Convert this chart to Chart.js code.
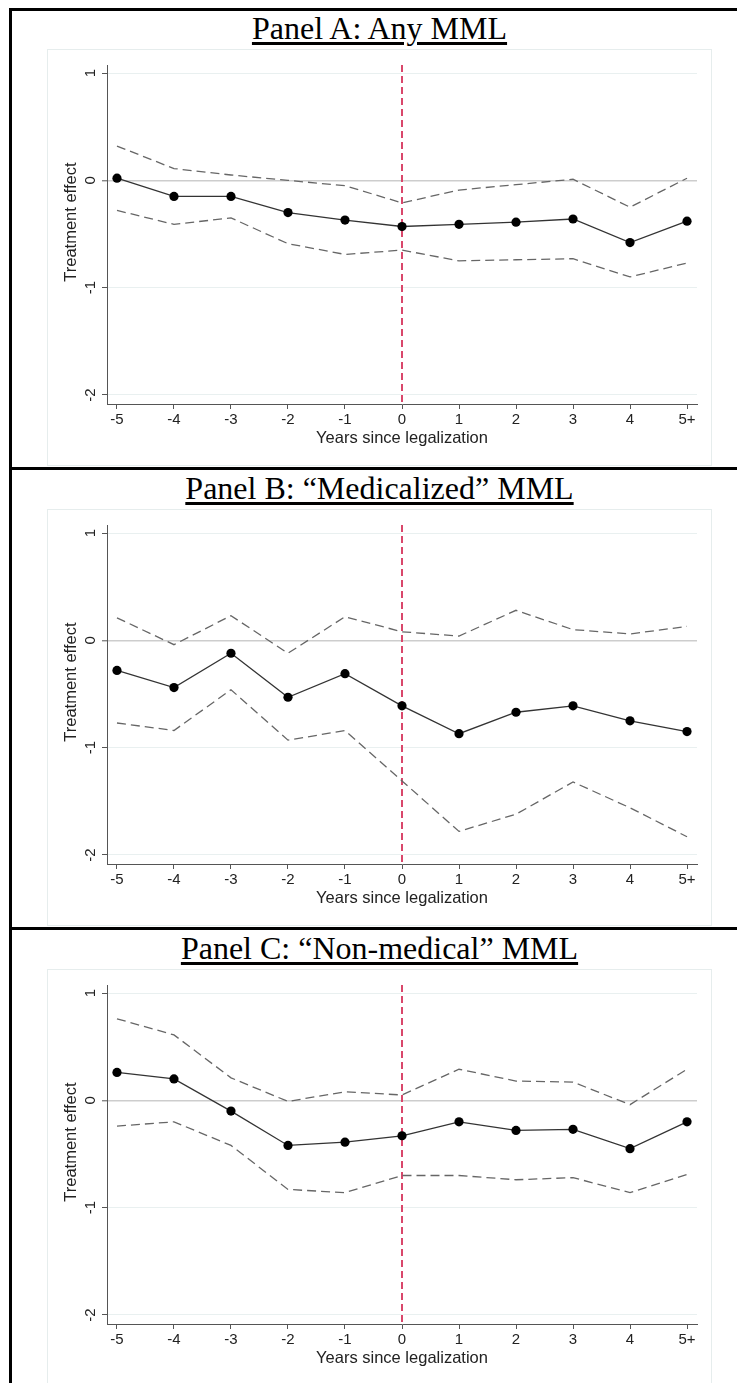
<!DOCTYPE html>
<html>
<head>
<meta charset="utf-8">
<script src="https://cdn.jsdelivr.net/npm/chart.js@4.4.1/dist/chart.umd.min.js"></script>
<style>
body { margin: 0; background: #fff; width: 737px; height: 1383px; overflow: hidden; position: relative; }
.vline { position: absolute; left: 9px; top: 8px; width: 3px; height: 1400px; background: #000; }
.hline { position: absolute; left: 9px; width: 740px; height: 3px; background: #000; }
.title { position: absolute; left: 9px; width: 741px; text-align: center; color: #000;
  font-family: "Liberation Serif", "Times New Roman", serif; font-size: 32px; line-height: 32px; }
.title span { text-decoration: underline; text-decoration-thickness: 2.5px; text-underline-offset: 3px; }
.frame { position: absolute; left: 47px; width: 663px; height: 415px; border: 1px solid #e6eded; }
canvas { position: absolute; left: 47px; }
</style>
</head>
<body>
<div class="vline"></div>
<div class="hline" style="top:8px"></div>
<div class="hline" style="top:467px"></div>
<div class="hline" style="top:927px"></div>

<div class="title" style="top:12px"><span>Panel A: Any MML</span></div>
<div class="frame" style="top:49px"></div>
<canvas id="chartA" width="664" height="416" style="top:49px"></canvas>

<div class="title" style="top:472px"><span>Panel B: “Medicalized” MML</span></div>
<div class="frame" style="top:509px"></div>
<canvas id="chartB" width="664" height="416" style="top:509px"></canvas>

<div class="title" style="top:932px"><span>Panel C: “Non-medical” MML</span></div>
<div class="frame" style="top:969px"></div>
<canvas id="chartC" width="664" height="416" style="top:969px"></canvas>

<script>
// x axis: years since legalization
const xTicks = [-5, -4, -3, -2, -1, 0, 1, 2, 3, 4, 5];
const xLabels = ['-5', '-4', '-3', '-2', '-1', '0', '1', '2', '3', '4', '5+'];
const yTicks = [-2, -1, 0, 1];
const yMin = -2.084;
const yMax = 1.075;
const legalYear = 0;

// Panel A: Any MML
const anyEst = [0.02, -0.15, -0.15, -0.30, -0.37, -0.43, -0.41, -0.39, -0.36, -0.58, -0.38];
const anyHi  = [0.32, 0.11, 0.05, 0.00, -0.05, -0.21, -0.09, -0.04, 0.01, -0.25, 0.02];
const anyLo  = [-0.28, -0.41, -0.35, -0.59, -0.69, -0.65, -0.75, -0.74, -0.73, -0.90, -0.77];

// Panel B: "Medicalized" MML
const medEst = [-0.28, -0.44, -0.12, -0.53, -0.31, -0.61, -0.87, -0.67, -0.61, -0.75, -0.85];
const medHi  = [0.21, -0.04, 0.23, -0.12, 0.22, 0.08, 0.04, 0.28, 0.10, 0.06, 0.13];
const medLo  = [-0.77, -0.84, -0.46, -0.93, -0.84, -1.31, -1.78, -1.62, -1.32, -1.56, -1.83];

// Panel C: "Non-medical" MML
const nonEst = [0.26, 0.20, -0.10, -0.42, -0.39, -0.33, -0.20, -0.28, -0.27, -0.45, -0.20];
const nonHi  = [0.76, 0.61, 0.21, -0.01, 0.08, 0.05, 0.29, 0.18, 0.17, -0.04, 0.29];
const nonLo  = [-0.24, -0.20, -0.42, -0.83, -0.86, -0.70, -0.70, -0.74, -0.72, -0.86, -0.69];

Chart.defaults.font.family = "'Liberation Sans', Arial, Helvetica, sans-serif";
Chart.defaults.color = '#222';

function pts(vals) {
    return vals.map((v, i) => ({ x: xTicks[i], y: v }));
}

function makeChart(id, est, hi, lo) {
    const ctx = document.getElementById(id).getContext('2d');
    new Chart(ctx, {
        type: 'line',
        data: {
            datasets: [
                { data: pts(est), borderColor: '#333', borderWidth: 1.3, tension: 0,
                  pointRadius: 4.6, pointBackgroundColor: '#000', pointBorderWidth: 0 },
                { data: pts(hi), borderColor: '#666', borderWidth: 1.3, borderDash: [9, 5], pointRadius: 0, tension: 0 },
                { data: pts(lo), borderColor: '#666', borderWidth: 1.3, borderDash: [9, 5], pointRadius: 0, tension: 0 },
                { data: [{ x: legalYear, y: yMax }, { x: legalYear, y: yMin }],
                  borderColor: '#d9476b', borderWidth: 2, borderDash: [7, 4], pointRadius: 0 }
            ]
        },
        options: {
            responsive: false,
            animation: false,
            devicePixelRatio: 1,
            layout: { padding: { left: 0, right: 14, top: 16, bottom: 0 } },
            plugins: { legend: { display: false }, tooltip: { enabled: false } },
            scales: {
                x: {
                    type: 'linear', position: 'bottom', min: -5.175, max: 5.175,
                    afterBuildTicks: s => { s.ticks = xTicks.map(v => ({ value: v })); },
                    afterFit: s => { s.height = 61; },
                    grid: { drawOnChartArea: false, drawTicks: true, tickLength: 5, tickColor: '#555', tickWidth: 1 },
                    border: { display: true, color: '#555', width: 1 },
                    ticks: { autoSkip: false, maxRotation: 0, padding: 2, font: { size: 15 }, color: '#222',
                             callback: v => xLabels[xTicks.indexOf(v)] },
                    title: { display: true, text: 'Years since legalization', font: { size: 16.5 },
                             color: '#222', padding: { top: 0, bottom: 17 } }
                },
                y: {
                    type: 'linear', position: 'left', min: yMin, max: yMax,
                    afterBuildTicks: s => { s.ticks = yTicks.map(v => ({ value: v })); },
                    afterFit: s => { s.width = 60; },
                    grid: {
                        color: c => (c.tick && c.tick.value === 0) ? '#cdcdcd' : '#e9f0f0',
                        lineWidth: c => (c.tick && c.tick.value === 0) ? 1.6 : 1,
                        drawTicks: true, tickLength: 5, tickColor: '#555', tickWidth: 1
                    },
                    border: { display: true, color: '#555', width: 1 },
                    ticks: { minRotation: 90, maxRotation: 90, crossAlign: 'center', padding: 4,
                             font: { size: 15 }, color: '#222', callback: v => String(v) },
                    // leading en-spaces nudge the centred title slightly upward
                    title: { display: true, text: '\u2002\u2002\u2002Treatment effect', font: { size: 16.5 },
                             color: '#222', padding: { top: 15, bottom: 0 } }
                }
            }
        }
    });
}

makeChart('chartA', anyEst, anyHi, anyLo);
makeChart('chartB', medEst, medHi, medLo);
makeChart('chartC', nonEst, nonHi, nonLo);
</script>
</body>
</html>
